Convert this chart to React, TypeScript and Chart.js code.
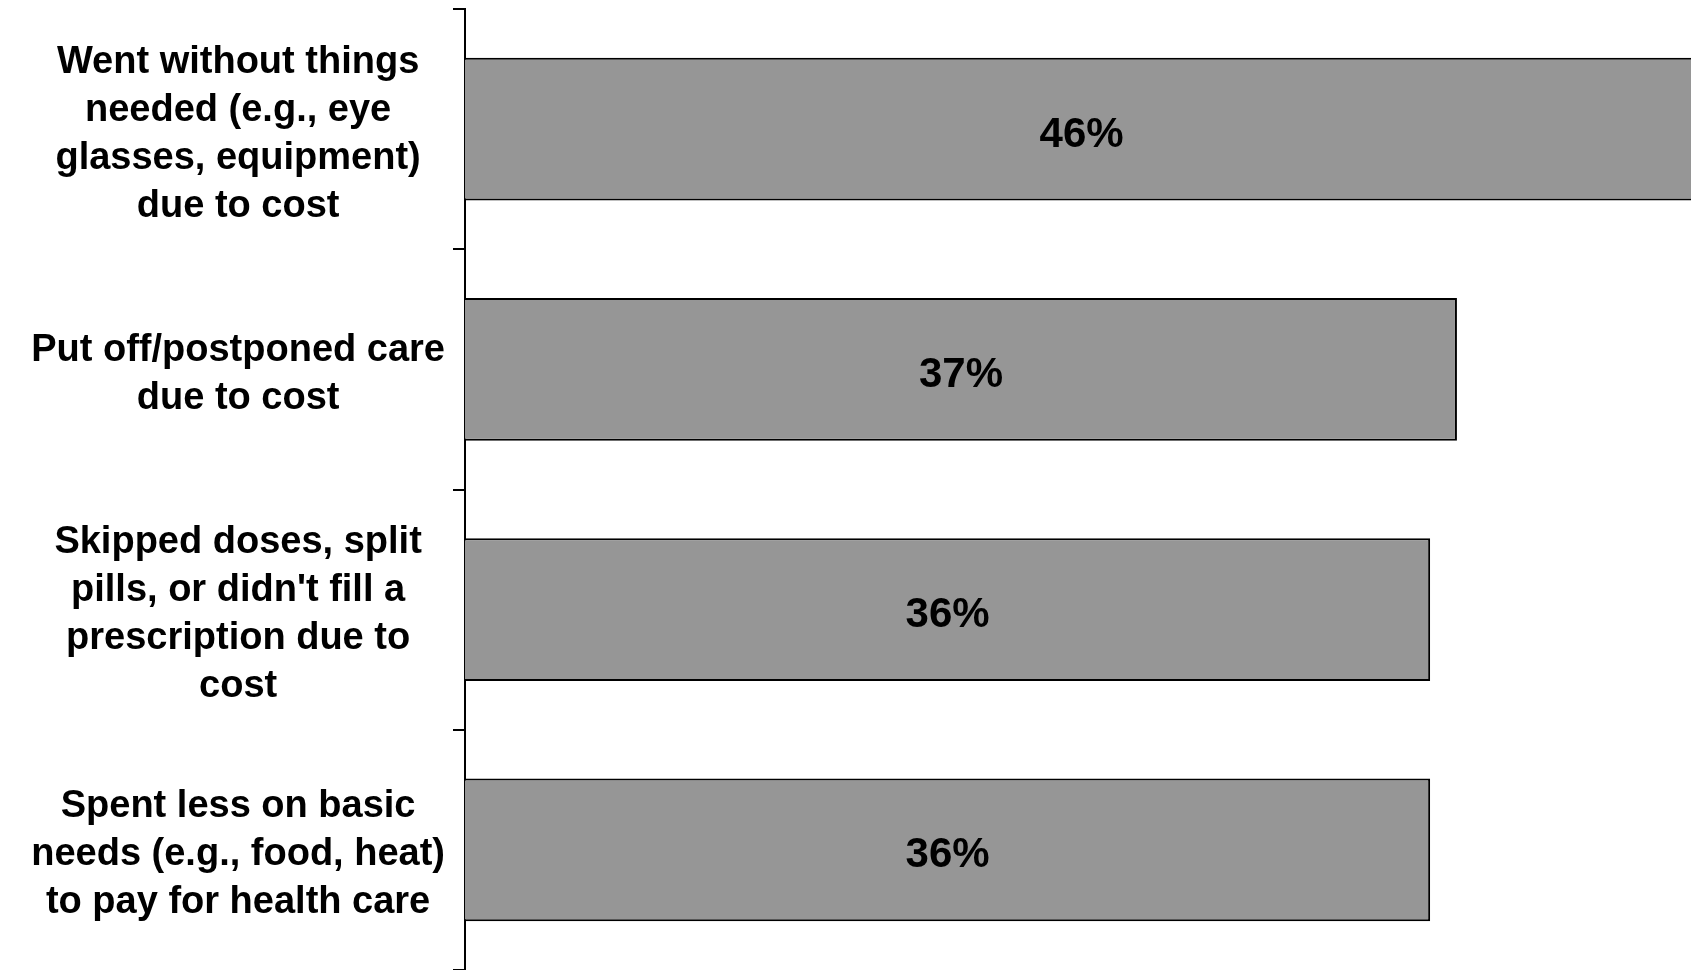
import React, { useEffect, useRef } from "react";
import { Chart, registerables } from "chart.js";

Chart.register(...registerables);

const categories: string[][] = [
  ["Went without things", "needed (e.g., eye", "glasses, equipment)", "due to cost"],
  ["Put off/postponed care", "due to cost"],
  ["Skipped doses, split", "pills, or didn't fill a", "prescription due to", "cost"],
  ["Spent less on basic", "needs (e.g., food, heat)", "to pay for health care"],
];
const values: number[] = [46, 37, 36, 36];
const xMin = 0;
const xMax = 45.73;

const FONT = "'Liberation Sans', Arial, Helvetica, sans-serif";

const valueLabels = {
  id: "valueLabels",
  afterDatasetsDraw(chart: any) {
    const ctx = chart.ctx;
    const meta = chart.getDatasetMeta(0);
    const data = chart.data.datasets[0].data as number[];
    ctx.save();
    ctx.fillStyle = "#000";
    ctx.font = `bold 42px ${FONT}`;
    ctx.textAlign = "center";
    ctx.textBaseline = "middle";
    meta.data.forEach((el: any, i: number) => {
      const cx = (el.x + el.base) / 2;
      ctx.fillText(`${data[i]}%`, cx, el.y + 6);
    });
    ctx.restore();
  },
};

export default function App() {
  const canvasRef = useRef<HTMLCanvasElement | null>(null);

  useEffect(() => {
    if (!canvasRef.current) return;
    const chart = new Chart(canvasRef.current, {
      type: "bar",
      data: {
        labels: categories,
        datasets: [
          {
            data: values,
            backgroundColor: "#969696",
            borderColor: "#000000",
            borderWidth: 2,
            barPercentage: 0.595,
            categoryPercentage: 1,
          },
        ],
      },
      options: {
        indexAxis: "y",
        responsive: true,
        maintainAspectRatio: false,
        animation: false,
        layout: { padding: { top: 9, left: 0, right: 0, bottom: 0 } },
        plugins: {
          legend: { display: false },
          tooltip: { enabled: false },
        },
        scales: {
          x: {
            type: "linear",
            display: false,
            min: xMin,
            max: xMax,
          },
          y: {
            type: "category",
            position: "left",
            offset: true,
            afterFit(scale: any) {
              scale.width = 465;
              scale.paddingTop = 0;
              scale.paddingBottom = 0;
            },
            border: { display: true, color: "#000", width: 2 },
            grid: {
              display: true,
              drawOnChartArea: false,
              drawTicks: true,
              tickLength: 12,
              color: "#000",
              lineWidth: 2,
              offset: true,
            },
            ticks: {
              color: "#000",
              autoSkip: false,
              padding: 8,
              labelOffset: 5,
              crossAlign: "center",
              font: { family: FONT, size: 38, weight: "bold", lineHeight: 1.263 },
            },
          },
        },
      },
      plugins: [valueLabels],
    } as any);
    return () => chart.destroy();
  }, []);

  return (
    <div style={{ position: "absolute", left: 0, top: 0, width: 1691, height: 970, background: "#fff" }}>
      <canvas ref={canvasRef} />
    </div>
  );
}
